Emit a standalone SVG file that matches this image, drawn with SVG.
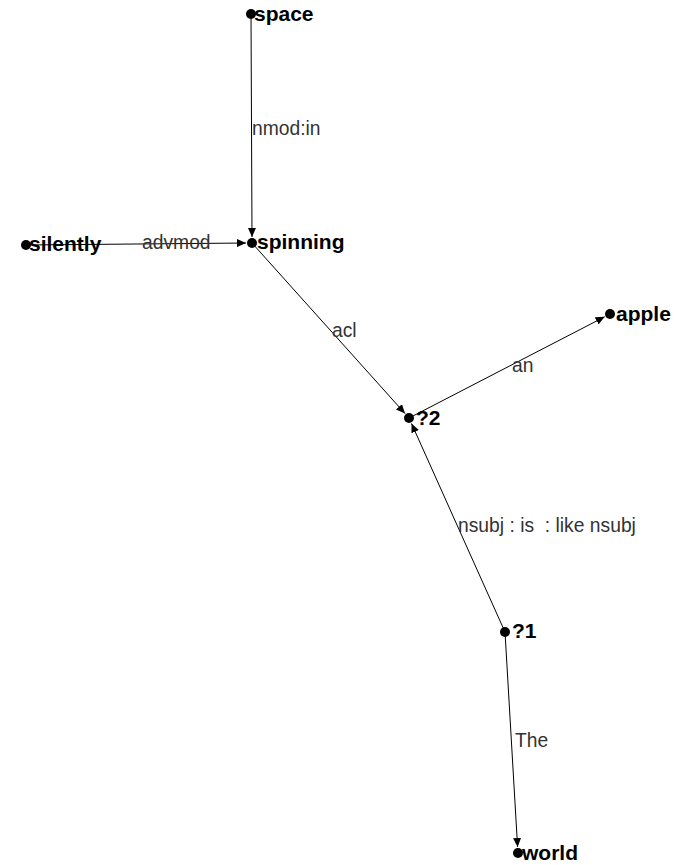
<svg xmlns="http://www.w3.org/2000/svg" width="677" height="865" viewBox="0 0 677 865">
<style>
.e{stroke:#000;stroke-width:1;fill:none;marker-end:url(#ah)}
.el{font-family:"Liberation Sans",Arial,sans-serif;font-size:19.3px;fill:#333}
.nl{font-family:"Liberation Sans",Arial,sans-serif;font-size:21px;font-weight:bold;fill:#000}
.d{fill:#000}
</style>
<defs>
<marker id="ah" markerWidth="10" markerHeight="8" refX="9" refY="4" orient="auto" markerUnits="userSpaceOnUse">
<path d="M0,0 L9,4 L0,8 Z" fill="#000"/>
</marker>
</defs>
<rect width="677" height="865" fill="#fff"/>
<g id="connectors">
<line class="e" x1="251" y1="14" x2="252" y2="237"/>
<line class="e" x1="26" y1="245" x2="246" y2="243"/>
<line class="e" x1="252" y1="243" x2="405" y2="413.5"/>
<line class="e" x1="409" y1="418" x2="604.7" y2="316.8"/>
<line class="e" x1="505" y1="632" x2="411.5" y2="423.5"/>
<line class="e" x1="505" y1="632" x2="517.6" y2="847"/>
<text class="el" x="252" y="135">nmod:in</text>
<text class="el" x="142" y="249">advmod</text>
<text class="el" x="332" y="337">acl</text>
<text class="el" x="512" y="372">an</text>
<text class="el" x="458" y="532" xml:space="preserve">nsubj : is  : like nsubj</text>
<text class="el" x="515" y="747">The</text>
</g>
<g id="space"><circle class="d" cx="251" cy="14" r="5"/><text class="nl" x="254" y="21">space</text></g>
<g id="spinning"><circle class="d" cx="252" cy="243" r="5"/><text class="nl" x="257" y="249">spinning</text></g>
<g id="silently"><circle class="d" cx="26" cy="245" r="5"/><text class="nl" x="29" y="251">silently</text></g>
<g id="apple"><circle class="d" cx="610" cy="314" r="5"/><text class="nl" x="616" y="321">apple</text></g>
<g id="q2"><circle class="d" cx="409" cy="418" r="5"/><text class="nl" x="416" y="425">?2</text></g>
<g id="q1"><circle class="d" cx="505" cy="632" r="5"/><text class="nl" x="512" y="638">?1</text></g>
<g id="world"><circle class="d" cx="518" cy="853" r="5"/><text class="nl" x="522" y="860">world</text></g>
</svg>
